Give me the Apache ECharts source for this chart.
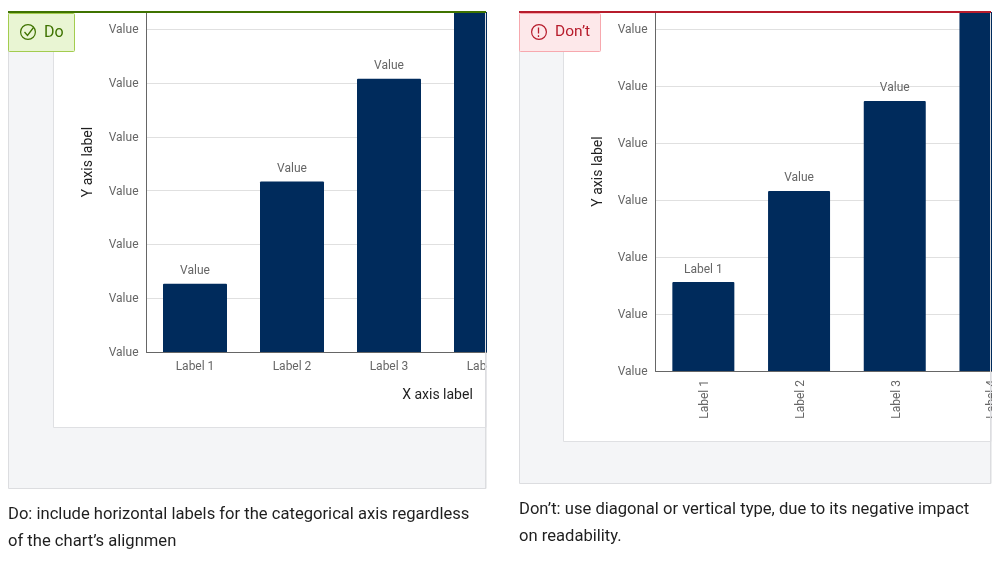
<!DOCTYPE html>
<html><head><meta charset="utf-8">
<style>
html,body{margin:0;padding:0;background:#fff;width:1000px;height:563px;overflow:hidden}
.c{position:absolute;left:0;top:0;height:563px}
#a{width:1000px;clip-path:inset(0 513.5px 0 0)}
#b{width:1100px;clip-path:inset(0 108.5px 0 515px)}
</style>
<script src="https://cdn.jsdelivr.net/npm/echarts@6/dist/echarts.min.js"></script>
</head><body>
<div id="a" class="c"></div><div id="b" class="c"></div>
<script>
const categories = ['Label 1','Label 2','Label 3','Label 4'];
const doValues = [1.27,3.17,5.08,7];
const dontValues = [1.56,3.16,4.74,7];
const doBarLabels = ['Value','Value','Value',''];
const dontBarLabels = ['Label 1','Value','Value',''];
const tickLabel = 'Value';
const xName = 'X axis label', yName = 'Y axis label';
const FONT = 'Roboto';
const NAVY = '#002b5c', GREY = '#666', INK = '#1f1f1f';

function decor(p){
  const T = (x,y,s,o={}) => ({type:'text',z:o.z||1,x,y,style:{text:s,fontFamily:FONT,fontSize:o.size||16,fill:o.fill||INK,textVerticalAlign:'middle',textAlign:o.align||'left'}});
  const r = p.x1-p.x0, h = p.y1-p.y0;
  const els = [
    {type:'rect',z:-10,shape:{x:p.x0+.5,y:12.5,width:r,height:h},style:{fill:'#f4f5f7',stroke:'#dcdde0',lineWidth:1}},
    {type:'rect',z:-9,shape:{x:p.cardX+.5,y:12.5,width:p.x1-p.cardX,height:p.cardY-12},style:{fill:'#fff',stroke:'#dfe0e3',lineWidth:1}},
    {type:'line',z:20,shape:{x1:p.x1,y1:12,x2:p.x1,y2:p.y1},style:{stroke:'#dcdde0',lineWidth:1}},
    {type:'rect',z:21,shape:{x:p.x0,y:11,width:r+.5,height:2},style:{fill:p.dark}},
    {type:'rect',z:21,shape:{x:p.x0+.5,y:13.5,width:p.badgeW,height:38,r:1},style:{fill:p.badgeFill,stroke:p.badgeStroke,lineWidth:1}},
    {type:'circle',z:22,shape:{cx:p.x0+20,cy:32,r:7.4},style:{fill:'none',stroke:p.dark,lineWidth:1.2}},
    T(p.x0+36,32.5,p.badge,{size:p.badgeSize,fill:p.dark,z:22}),
  ];
  p.icon.forEach(s=>els.push({type:'polyline',z:23,shape:{points:s},style:{fill:'none',stroke:p.dark,lineWidth:1.3}}));
  p.text.forEach((s,i)=>els.push(T(p.x0,p.textY+i*27,s,{size:16.6})));
  return els;
}
function build(id,cfg){
  const chart = echarts.init(document.getElementById(id),null,{renderer:'canvas'});
  chart.setOption({
    animation:false,
    backgroundColor:'transparent',
    graphic:{elements:decor(cfg.panel)},
    grid:{left:cfg.left,top:12,width:cfg.band*4,height:cfg.bottom-12,containLabel:false},
    xAxis:{type:'category',data:categories,
      name:cfg.xName,nameLocation:'middle',nameGap:36,
      nameTextStyle:{fontFamily:FONT,fontSize:14,color:INK,padding:[0,0,0,194]},
      axisTick:{show:false},axisLine:{lineStyle:{color:GREY,width:1}},
      axisLabel:{color:GREY,fontFamily:FONT,fontSize:12,margin:cfg.xMargin,rotate:cfg.rotate,interval:0,
        formatter:v=>'{t|'+v+'}',
        rich:{t:{color:GREY,fontFamily:FONT,fontSize:12,padding:cfg.xPad}}}},
    yAxis:{type:'value',min:0,max:cfg.max,interval:1,
      name:yName,nameLocation:'middle',nameGap:cfg.left-cfg.nameX,nameRotate:90,
      nameTextStyle:{fontFamily:FONT,fontSize:14,color:INK,padding:[0,0,0,cfg.namePad]},
      axisLine:{show:true,lineStyle:{color:GREY,width:1}},axisTick:{show:false},
      axisLabel:{color:GREY,fontFamily:FONT,fontSize:12,margin:8,showMaxLabel:false,
        formatter:v=>Number.isInteger(v)?'{t|'+tickLabel+'}':'',
        rich:{t:{color:GREY,fontFamily:FONT,fontSize:12,padding:[2,0,0,0]}}},
      splitLine:{show:true,showMaxLine:false,lineStyle:{color:'#e0e0e0',width:1}}},
    series:[{type:'bar',data:cfg.values,barWidth:cfg.barWidth,clip:true,
      itemStyle:{color:NAVY,borderRadius:[1,1,0,0]},
      label:{show:true,position:'top',distance:6.5,color:GREY,fontFamily:FONT,fontSize:12,
        formatter:p=>cfg.labels[p.dataIndex]}}]
  });
}
build('a',{left:146.5,band:97,bottom:352,max:6.32,nameX:95,namePad:40,xName:xName,xMargin:9,rotate:0,xPad:0,
  values:doValues,labels:doBarLabels,barWidth:64,
  panel:{x0:8,x1:485.5,y0:12,y1:488,cardX:53,cardY:427,dark:'#3f7300',badge:'Do',badgeSize:16,badgeW:66,badgeFill:'#e9f5d3',badgeStroke:'#a3cc4f',
    icon:[[[24.5,32],[27.5,35.5],[33.5,27.5]]],
    text:['Do: include horizontal labels for the categorical axis regardless','of the chart’s alignmen'],textY:515}});
build('b',{left:655.5,band:95.7,bottom:371,max:6.3,nameX:605,namePad:40,xName:'',xMargin:9,rotate:90,xPad:[4,0,0,0],
  values:dontValues,labels:dontBarLabels,barWidth:62,
  panel:{x0:519,x1:990.5,y0:12,y1:483,cardX:563,cardY:441,dark:'#b71c2c',badge:'Don’t',badgeSize:15.5,badgeW:81,badgeFill:'#fde8ea',badgeStroke:'#f7a8ae',
    icon:[[[538.5,27.5],[538.5,33.5]],[[538.5,35.2],[538.5,37]]],
    text:['Don’t: use diagonal or vertical type, due to its negative impact','on readability.'],textY:510}});
</script>
</body></html>
